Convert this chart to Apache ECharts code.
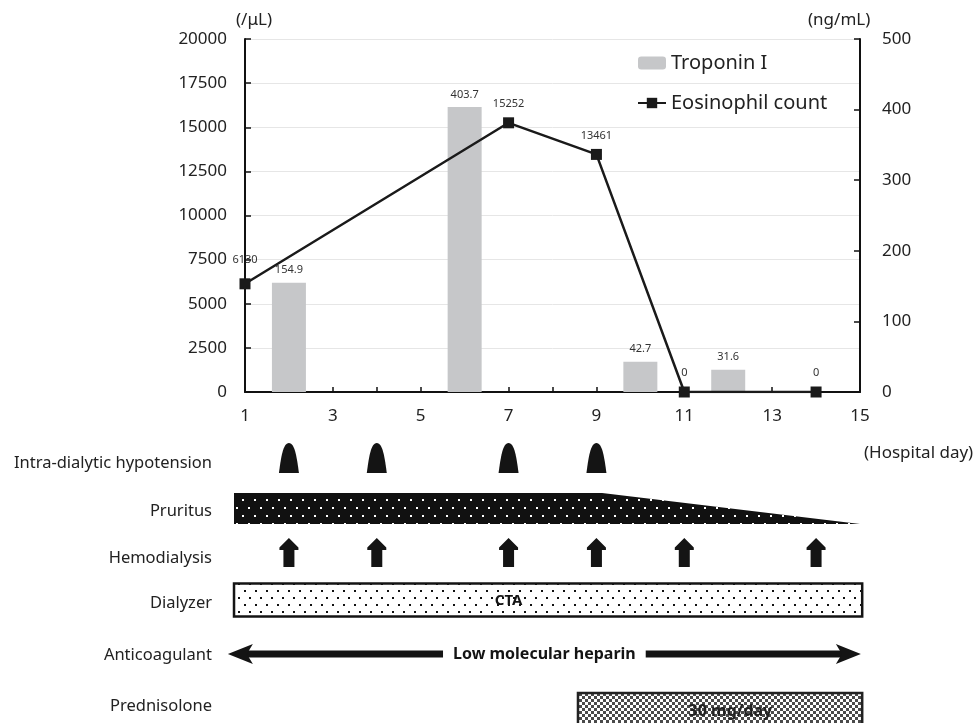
<!DOCTYPE html>
<html>
<head>
<meta charset="utf-8">
<script src="https://cdn.jsdelivr.net/npm/echarts@6/dist/echarts.min.js"></script>
<style>html,body{margin:0;padding:0;background:#fff}#chart{width:978px;height:723px}</style>
</head>
<body>
<div id="chart"></div>
<script>
// ---- data ----
const troponinDays = [2, 6, 10, 12];
const troponinValues = [154.9, 403.7, 42.7, 31.6];
const eosinophilDays = [1, 7, 9, 11, 14];
const eosinophilValues = [6130, 15252, 13461, 0, 0];
const xTickLabels = [1, 3, 5, 7, 9, 11, 13, 15];
const hypotensionDays = [2, 4, 7, 9];
const hemodialysisDays = [2, 4, 7, 9, 11, 14];
const pruritusProfile = [[0.75, 1], [9.13, 1], [15, 0]];   // [day, relative intensity]
const dialyzerSpan = [0.75, 15.05];
const dialyzerName = 'CTA';
const dialyzerNameDay = 7;
const anticoagulantSpan = [0.61, 15.02];
const anticoagulantName = 'Low molecular heparin';
const prednisoloneSpan = [8.58, 15.05];
const prednisoloneDose = '30 mg/day';
const prednisoloneDoseDay = 12.05;
const rowLabels = ['Intra-dialytic hypotension', 'Pruritus', 'Hemodialysis', 'Dialyzer', 'Anticoagulant', 'Prednisolone'];

// ---- layout (timeline rows, in timeline axis units) ----
const rows = { hyp: 28, pruritusBase: 94, pruritusHeight: 31, hemo: 122.5, dialyzer: 170, anticoag: 224, pred: 279 };
const rowLabelY = [463, 511, 558, 603, 655, 706];
const FONT = 'Noto Sans';

function makePattern(w, h, bg, fg, dots, s) {
  const c = document.createElement('canvas');
  c.width = w; c.height = h;
  const ctx = c.getContext('2d');
  ctx.fillStyle = bg; ctx.fillRect(0, 0, w, h);
  ctx.fillStyle = fg;
  dots.forEach(d => ctx.fillRect(d[0], d[1], s, s));
  return { image: c, repeat: 'repeat' };
}
const pruritusPattern = makePattern(12, 16, '#111', '#fff', [[2, 3], [8, 11]], 2);
const dialyzerPattern = makePattern(11, 14, '#fff', '#111', [[2, 2], [7, 9]], 2);
const checkerPattern = makePattern(6, 6, '#fff', '#4a4a4a', [[0, 0], [3, 3]], 3);

const chart = echarts.init(document.getElementById('chart'));

const graphics = [
  { type: 'text', left: 236, top: 12, style: { text: '(/μL)', font: '17px "' + FONT + '"', fill: '#222' } },
  { type: 'text', left: 808, top: 12, style: { text: '(ng/mL)', font: '17px "' + FONT + '"', fill: '#222' } },
  { type: 'text', left: 864, top: 445, style: { text: '(Hospital day)', font: '17px "' + FONT + '"', fill: '#222' } }
];
rowLabels.forEach((t, i) => graphics.push({
  type: 'text', x: 212, y: rowLabelY[i],
  style: { text: t, font: '16.5px "' + FONT + '"', fill: '#222', align: 'right', verticalAlign: 'middle' }
}));

const option = {
  animation: false,
  textStyle: { fontFamily: FONT },
  graphic: graphics,
  legend: {
    left: 632, top: 48, orient: 'vertical', itemGap: 20, itemWidth: 28, itemHeight: 13,
    textStyle: { fontSize: 20, color: '#222', fontFamily: FONT },
    data: ['Troponin I', 'Eosinophil count']
  },
  grid: [
    { left: 245, right: 118, top: 39, bottom: 331 },
    { left: 245, right: 118, top: 430, bottom: 0 }
  ],
  xAxis: [
    {
      type: 'value', gridIndex: 0, min: 1, max: 15, interval: 1,
      axisLine: { lineStyle: { color: '#111', width: 2 } },
      axisTick: { inside: true, length: 5, lineStyle: { color: '#111', width: 1.5 } },
      splitLine: { show: false },
      axisLabel: {
        fontSize: 17, color: '#222', margin: 16,
        formatter: v => (xTickLabels.indexOf(v) >= 0 ? String(v) : '')
      }
    },
    { type: 'value', gridIndex: 1, min: 1, max: 15, show: false }
  ],
  yAxis: [
    {
      type: 'value', gridIndex: 0, min: 0, max: 20000, interval: 2500, position: 'left',
      axisLine: { show: true, lineStyle: { color: '#111', width: 2 } },
      axisTick: { show: true, inside: true, length: 6, lineStyle: { color: '#111', width: 1.5 } },
      splitLine: { show: true, lineStyle: { color: '#e6e6e6', width: 1 } },
      axisLabel: { fontSize: 17, color: '#222', margin: 18, formatter: v => String(v) }
    },
    {
      type: 'value', gridIndex: 0, min: 0, max: 500, interval: 100, position: 'right',
      axisLine: { show: true, lineStyle: { color: '#111', width: 2 } },
      axisTick: { show: true, inside: true, length: 6, lineStyle: { color: '#111', width: 1.5 } },
      splitLine: { show: false },
      axisLabel: { fontSize: 17, color: '#222', margin: 22, formatter: v => String(v) }
    },
    { type: 'value', gridIndex: 1, min: 0, max: 293, inverse: true, show: false }
  ],
  series: [
    {
      name: 'Troponin I', type: 'bar', xAxisIndex: 0, yAxisIndex: 1, barWidth: 34,
      itemStyle: { color: '#c6c7c9' },
      label: { show: true, position: 'top', distance: 7, fontSize: 11, color: '#333' },
      data: troponinDays.map((d, i) => [d, troponinValues[i]]),
      z: 2
    },
    {
      name: 'Eosinophil count', type: 'line', xAxisIndex: 0, yAxisIndex: 0,
      symbol: 'rect', symbolSize: 11,
      lineStyle: { color: '#1a1a1a', width: 2.5 },
      itemStyle: { color: '#1a1a1a' },
      label: { show: true, position: 'top', distance: 8, fontSize: 11, color: '#333' },
      data: eosinophilDays.map((d, i) => i === 0
        ? { value: [d, eosinophilValues[i]], label: { distance: 13 } }
        : [d, eosinophilValues[i]]),
      z: 5
    },
    {
      type: 'custom', xAxisIndex: 1, yAxisIndex: 2, silent: true,
      data: hypotensionDays.map(d => [d]),
      renderItem: (params, api) => {
        const p = api.coord([api.value(0), rows.hyp]);
        const x = p[0], y = p[1];
        return {
          type: 'path',
          shape: { pathData: `M${x - 10} ${y + 15} C${x - 8} ${y} ${x - 6} ${y - 15} ${x} ${y - 15} C${x + 6} ${y - 15} ${x + 8} ${y} ${x + 10} ${y + 15} Z` },
          style: { fill: '#141414' }
        };
      }
    },
    {
      type: 'custom', xAxisIndex: 1, yAxisIndex: 2, silent: true,
      data: [[pruritusProfile[0][0]]],
      renderItem: (params, api) => {
        const top = pruritusProfile.map(pt => api.coord([pt[0], rows.pruritusBase - pt[1] * rows.pruritusHeight]));
        const bR = api.coord([pruritusProfile[pruritusProfile.length - 1][0], rows.pruritusBase]);
        const bL = api.coord([pruritusProfile[0][0], rows.pruritusBase]);
        return { type: 'polygon', shape: { points: top.concat([bR, bL]) }, style: { fill: pruritusPattern } };
      }
    },
    {
      type: 'custom', xAxisIndex: 1, yAxisIndex: 2, silent: true,
      data: hemodialysisDays.map(d => [d]),
      renderItem: (params, api) => {
        const p = api.coord([api.value(0), rows.hemo]);
        const x = p[0], y = p[1];
        return {
          type: 'polygon',
          shape: { points: [[x, y - 14.5], [x + 9.5, y - 5], [x + 9.5, y - 2.5], [x + 5.5, y - 2.5], [x + 5.5, y + 14.5], [x - 5.5, y + 14.5], [x - 5.5, y - 2.5], [x - 9.5, y - 2.5], [x - 9.5, y - 5]] },
          style: { fill: '#141414' }
        };
      }
    },
    {
      type: 'custom', xAxisIndex: 1, yAxisIndex: 2, silent: true,
      data: [[dialyzerSpan[0], dialyzerSpan[1], dialyzerNameDay]],
      renderItem: (params, api) => {
        const a = api.coord([api.value(0), rows.dialyzer]);
        const b = api.coord([api.value(1), rows.dialyzer]);
        const t = api.coord([api.value(2), rows.dialyzer]);
        return {
          type: 'group', children: [
            { type: 'rect', shape: { x: a[0], y: a[1] - 16.5, width: b[0] - a[0], height: 33 }, style: { fill: dialyzerPattern, stroke: '#141414', lineWidth: 2.5 } },
            { type: 'text', x: t[0], y: t[1] + 1, style: { text: dialyzerName, font: 'bold 15px "' + FONT + '"', fill: '#141414', align: 'center', verticalAlign: 'middle' } }
          ]
        };
      }
    },
    {
      type: 'custom', xAxisIndex: 1, yAxisIndex: 2, silent: true,
      data: [[anticoagulantSpan[0], anticoagulantSpan[1]]],
      renderItem: (params, api) => {
        const a = api.coord([api.value(0), rows.anticoag]);
        const b = api.coord([api.value(1), rows.anticoag]);
        const y = a[1], xl = a[0], xr = b[0];
        return {
          type: 'group', children: [
            { type: 'line', shape: { x1: xl + 18, y1: y, x2: xr - 18, y2: y }, style: { stroke: '#141414', lineWidth: 7 } },
            { type: 'polygon', shape: { points: [[xl, y], [xl + 25, y - 10], [xl + 19, y], [xl + 25, y + 10]] }, style: { fill: '#141414' } },
            { type: 'polygon', shape: { points: [[xr, y], [xr - 25, y - 10], [xr - 19, y], [xr - 25, y + 10]] }, style: { fill: '#141414' } },
            { type: 'text', x: (xl + xr) / 2, y: y, style: { text: anticoagulantName, font: 'bold 16px "' + FONT + '"', fill: '#141414', align: 'center', verticalAlign: 'middle', backgroundColor: '#fff', padding: [4, 10] } }
          ]
        };
      }
    },
    {
      type: 'custom', xAxisIndex: 1, yAxisIndex: 2, silent: true,
      data: [[prednisoloneSpan[0], prednisoloneSpan[1], prednisoloneDoseDay]],
      renderItem: (params, api) => {
        const a = api.coord([api.value(0), rows.pred]);
        const b = api.coord([api.value(1), rows.pred]);
        const t = api.coord([api.value(2), rows.pred]);
        return {
          type: 'group', children: [
            { type: 'rect', shape: { x: a[0], y: a[1] - 16, width: b[0] - a[0], height: 33 }, style: { fill: checkerPattern, stroke: '#222', lineWidth: 2.5 } },
            { type: 'text', x: t[0], y: t[1] + 2, style: { text: prednisoloneDose, font: 'bold 16px "' + FONT + '"', fill: '#222', align: 'center', verticalAlign: 'middle' } }
          ]
        };
      }
    }
  ]
};
chart.setOption(option);
</script>
</body>
</html>
